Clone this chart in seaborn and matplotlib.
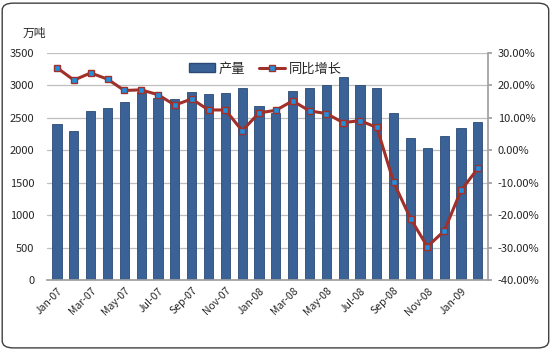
import numpy as np
import pandas as pd
import matplotlib
matplotlib.use("Agg")
import matplotlib.pyplot as plt
import seaborn as sns
from matplotlib.patches import FancyBboxPatch, Patch
from matplotlib.lines import Line2D
from matplotlib.ticker import FuncFormatter

months = ["Jan-07", "Feb-07", "Mar-07", "Apr-07", "May-07", "Jun-07", "Jul-07", "Aug-07",
          "Sep-07", "Oct-07", "Nov-07", "Dec-07", "Jan-08", "Feb-08", "Mar-08", "Apr-08",
          "May-08", "Jun-08", "Jul-08", "Aug-08", "Sep-08", "Oct-08", "Nov-08", "Dec-08",
          "Jan-09", "Feb-09"]
output = [2400, 2290, 2610, 2650, 2745, 2900, 2800, 2790, 2890, 2860, 2880, 2960, 2680,
          2570, 2910, 2960, 3000, 3125, 3010, 2960, 2570, 2190, 2030, 2220, 2340, 2430]
growth = [25.4, 21.6, 23.8, 21.9, 18.4, 18.6, 17.1, 13.9, 15.8, 12.4, 12.4, 6.0, 11.5,
          12.3, 15.2, 12.1, 11.3, 8.5, 9.1, 7.0, -9.9, -21.1, -29.7, -24.9, -12.4, -5.6]
left_ticks = [0, 500, 1000, 1500, 2000, 2500, 3000, 3500]
right_ticks = [-40, -30, -20, -10, 0, 10, 20, 30]
unit_label = "万吨"
bar_name = "产量"
line_name = "同比增长"

sns.set_theme(style="white")
plt.rcParams['font.family'] = ['Noto Sans CJK SC', 'DejaVu Sans']

df = pd.DataFrame({"month": months, "output": output, "growth": growth})
df["pos"] = np.arange(len(df))

fig = plt.figure(figsize=(5.52, 3.5), dpi=100)
ax = fig.add_axes([0.085, 0.2, 0.799, 0.649])

bar_color = "#3A6296"
sns.barplot(data=df, x="month", y="output", ax=ax, color=bar_color, width=0.55,
            edgecolor="#2A4A75", linewidth=0.6, saturation=1)
ax.set_ylim(0, 3500)
ax.set_yticks(left_ticks)
ax.yaxis.grid(True, color="#BFBFBF", linewidth=0.9)
ax.set_axisbelow(True)
ax.set_xlabel("")
ax.set_ylabel("")
ax.set_xlim(-0.6, len(df) - 0.4)
ax.set_xticks(df["pos"][::2])
ax.set_xticklabels(df["month"][::2], rotation=45, ha="right", rotation_mode="anchor")
ax.tick_params(axis="x", labelsize=7.5, length=0, pad=4)
ax.tick_params(axis="y", labelsize=8, length=0, pad=9)
for s in ["left", "top"]:
    ax.spines[s].set_visible(False)
ax.spines["bottom"].set_color("#A0A0A0")
ax.spines["right"].set_visible(False)

ax2 = ax.twinx()
line_color = "#A0302A"
sns.lineplot(data=df, x="pos", y="growth", ax=ax2, color=line_color, linewidth=2.2,
             marker="s", markersize=5, markerfacecolor="#1E90E0", markeredgecolor=line_color,
             markeredgewidth=1.0)
ax2.set_ylim(-40, 30)
ax2.set_yticks(right_ticks)
ax2.yaxis.set_major_formatter(FuncFormatter(lambda v, p: f"{v:.2f}%"))
ax2.tick_params(axis="y", labelsize=8, length=3, color="#A0A0A0", pad=4)
ax2.set_xlabel("")
ax2.set_ylabel("")
for s in ["left", "top", "bottom"]:
    ax2.spines[s].set_visible(False)
ax2.spines["right"].set_color("#A0A0A0")
ax2.grid(False)

fig.text(0.04, 0.905, unit_label, fontsize=8.5, ha="left", va="center")

handles = [Patch(facecolor=bar_color, edgecolor="#2A4A75", label=bar_name),
           Line2D([0], [0], color=line_color, lw=2.2, marker="s", markersize=5,
                  markerfacecolor="#1E90E0", markeredgecolor=line_color, label=line_name)]
ax2.legend(handles=handles, loc="upper center", bbox_to_anchor=(0.495, 1.01), ncol=2,
           frameon=False, fontsize=9.5, handlelength=2.0, columnspacing=1.0,
           handletextpad=0.3)

border = FancyBboxPatch((0.004, 0.006), 0.99, 0.985, boxstyle="round,pad=0,rounding_size=0.02",
                        transform=fig.transFigure, facecolor="none", edgecolor="#404040",
                        linewidth=1.0)
fig.patches.append(border)

fig.savefig("out.png", dpi=100)
